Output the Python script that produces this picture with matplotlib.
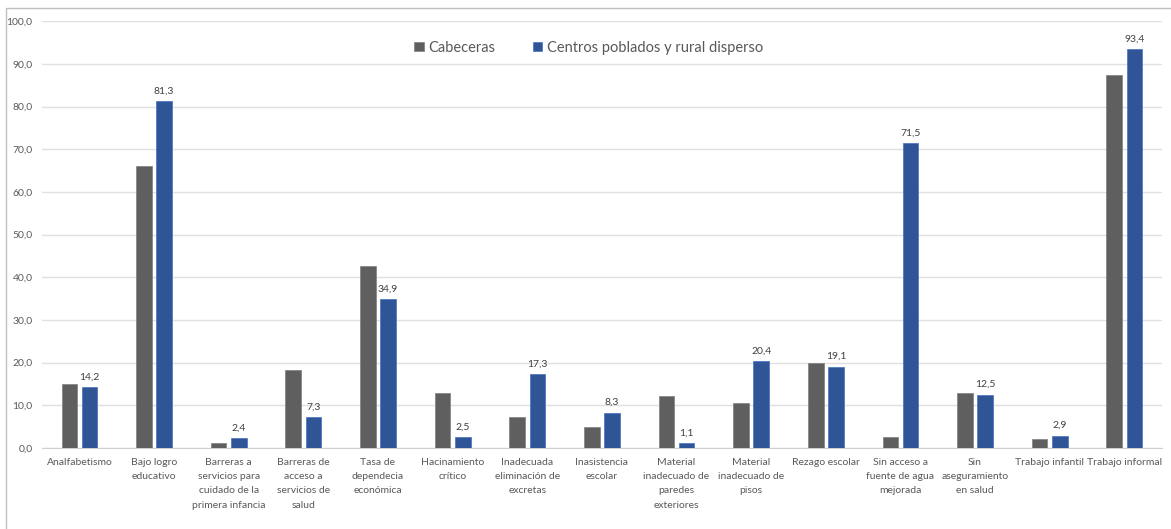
import numpy as np
import matplotlib
matplotlib.use('Agg')
import matplotlib.pyplot as plt
from matplotlib.patches import Rectangle
from matplotlib.ticker import FuncFormatter

plt.rcParams['font.family'] = ['Lato', 'DejaVu Sans']

categorias = ['Analfabetismo', 'Bajo logro\neducativo',
              'Barreras a\nservicios para\ncuidado de la\nprimera infancia',
              'Barreras de\nacceso a\nservicios de\nsalud',
              'Tasa de\ndependecia\neconómica', 'Hacinamiento\ncrítico',
              'Inadecuada\neliminación de\nexcretas', 'Inasistencia\nescolar',
              'Material\ninadecuado de\nparedes\nexteriores',
              'Material\ninadecuado de\npisos', 'Rezago escolar',
              'Sin acceso a\nfuente de agua\nmejorada',
              'Sin\naseguramiento\nen salud', 'Trabajo infantil',
              'Trabajo informal']

cabeceras = [14.9, 66.0, 1.2, 18.2, 42.6, 13.0, 7.2, 5.0, 12.2, 10.6,
             20.0, 2.5, 12.8, 2.2, 87.5]
rural = [14.2, 81.3, 2.4, 7.3, 34.9, 2.5, 17.3, 8.3, 1.1, 20.4,
         19.1, 71.5, 12.5, 2.9, 93.4]

gris = '#5f5f5f'
azul = '#2f5597'
texto = '#595959'

fig = plt.figure(figsize=(11.71, 5.29), dpi=100)
ax = fig.add_axes([0.036, 0.153, 0.956, 0.807])

# marco exterior
fig.patches.append(Rectangle((0.005, -0.01), 1.0, 0.995, transform=fig.transFigure,
                             fill=False, edgecolor='#bfbfbf', linewidth=1.0))

x = np.arange(len(categorias))
w = 0.21
gap = 0.06
ax.bar(x - (w + gap) / 2, cabeceras, w, color=gris, edgecolor='#7f7f7f',
       linewidth=0.5, label='Cabeceras', zorder=3)
b2 = ax.bar(x + (w + gap) / 2, rural, w, color=azul, edgecolor='#4472c4',
            linewidth=0.5, label='Centros poblados y rural disperso', zorder=3)

for rect, v in zip(b2, rural):
    ax.annotate('{:.1f}'.format(v).replace('.', ','),
                (rect.get_x() + rect.get_width() / 2, v),
                xytext=(0, 4), textcoords='offset points',
                ha='center', va='bottom', fontsize=7.5, color='#404040')

ax.set_ylim(0, 100)
ax.set_xlim(-0.5, len(categorias) - 0.5)
ax.set_yticks(np.arange(0, 101, 10))
ax.yaxis.set_major_formatter(FuncFormatter(lambda v, p: '{:.1f}'.format(v).replace('.', ',')))
ax.grid(axis='y', color='#e0e0e0', linewidth=1.0, zorder=0)
ax.set_xticks(x)
ax.set_xticklabels(categorias, fontsize=7.5, color=texto, linespacing=1.75, va='top')
ax.tick_params(axis='y', labelsize=7.5, colors=texto, length=0, pad=7)
ax.tick_params(axis='x', length=0, pad=7)
for s in ['top', 'right', 'left']:
    ax.spines[s].set_visible(False)
ax.spines['bottom'].set_color('#d0d0d0')

ax.legend(loc='upper center', bbox_to_anchor=(0.488, 0.985), ncol=2, frameon=False,
          fontsize=10.5, labelcolor=texto, handlelength=0.65, handleheight=0.65,
          handletextpad=0.3, columnspacing=2.6)

plt.savefig('out.png', dpi=100)
